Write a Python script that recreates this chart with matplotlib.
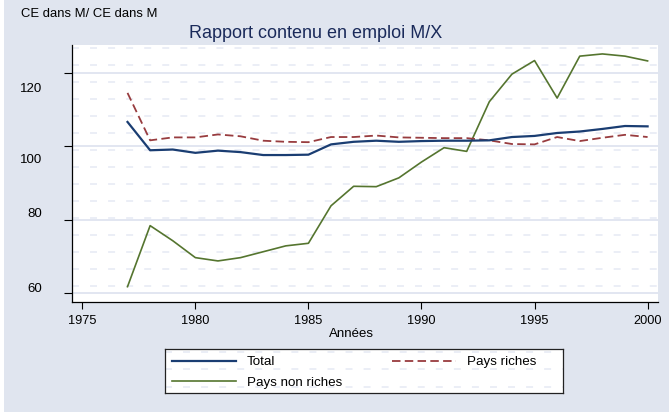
import numpy as np
import matplotlib
matplotlib.use("Agg")
import matplotlib.pyplot as plt
from matplotlib.transforms import ScaledTranslation
from matplotlib.patches import Rectangle
from matplotlib.lines import Line2D

plt.rcParams['font.family'] = ['Liberation Sans', 'DejaVu Sans']
plt.rcParams['lines.scale_dashes'] = False

years = list(range(1977, 2001))
total = [106.6, 98.9, 99.1, 98.2, 98.8, 98.4, 97.6, 97.6, 97.7, 100.5, 101.2, 101.5,
         101.2, 101.4, 101.5, 101.5, 101.6, 102.5, 102.8, 103.6, 104.0, 104.7, 105.5, 105.4]
riches = [114.5, 101.6, 102.4, 102.4, 103.2, 102.7, 101.5, 101.2, 101.1, 102.5, 102.5, 102.9,
          102.4, 102.3, 102.2, 102.2, 101.6, 100.6, 100.5, 102.5, 101.4, 102.3, 103.1, 102.5]
non_riches = [61.8, 78.4, 74.3, 69.7, 68.8, 69.7, 71.3, 72.9, 73.6, 83.8, 89.1, 89.0,
              91.4, 95.7, 99.6, 98.6, 112.1, 119.6, 123.3, 113.1, 124.5, 125.1, 124.5, 123.2]
series_names = ["Total", "Pays riches", "Pays non riches"]
xticks = [1975, 1980, 1985, 1990, 1995, 2000]
yticks = [60, 80, 100, 120]

W, H = 669, 412
BG = '#e0e5ef'
PAT = '#e6e9f4'
C_TOT = '#1a3d72'
C_RICH = '#983c3f'
C_NON = '#55752f'

fig = plt.figure(figsize=(W / 100, H / 100), dpi=100, facecolor=BG)
fig.patches.append(Rectangle((0, 0), 4 / W, 1, transform=fig.transFigure,
                             facecolor='white', edgecolor='none', zorder=-1))

def fx(px):
    return px / W

def fy(py):
    return 1 - py / H

ax_l, ax_r, ax_t, ax_b = 72, 657.7, 45, 302.3
ax = fig.add_axes([fx(ax_l), fy(ax_b), fx(ax_r - ax_l), (ax_b - ax_t) / H])
ax.set_facecolor('white')
ax.set_xlim(1974.545, 2000.447)
ax.set_ylim(57.55, 127.53)

# background texture rows
for k in range(15):
    ypx = 47.7 + 17.0 * k
    frac = (ax_b - ypx) / (ax_b - ax_t)
    ax.plot([0, 1], [frac, frac], transform=ax.transAxes, color=PAT, lw=1.1,
            linestyle=(0, (5, 8)), zorder=0.5)
for yv in yticks:
    ax.axhline(yv, color='#dde2ef', lw=1.2, zorder=0.6)

ax.plot(years, non_riches, color=C_NON, lw=1.2, zorder=3)
ax.plot(years, riches, color=C_RICH, lw=1.3, linestyle=(0, (6.1, 3.1)), zorder=3)
ax.plot(years, total, color=C_TOT, lw=1.6, zorder=4)

for s in ['top', 'right']:
    ax.spines[s].set_visible(False)
for s in ['left', 'bottom']:
    ax.spines[s].set_linewidth(0.9)
    ax.spines[s].set_color('black')

ax.set_xticks(xticks)
ax.set_xticklabels([str(v) for v in xticks])
ax.set_yticks(yticks)
ax.set_yticklabels([str(v) for v in yticks])
ax.tick_params(axis='x', length=5, width=0.8, pad=4.3, labelsize=9.2)
ax.tick_params(axis='y', length=5.8, width=0.8, pad=15.5, labelsize=9.5)

# y tick labels offsets as in reference
offsets_px = {120: 14.5, 100: 12.0, 80: -7.5, 60: -6.1}
for t, lab in zip(yticks, ax.get_yticklabels()):
    lab.set_transform(lab.get_transform() +
                      ScaledTranslation(0, -offsets_px[t] / 100, fig.dpi_scale_trans))

fig.text(fx(21), fy(17.3), "CE dans M/ CE dans M", fontsize=9.4, va='baseline', ha='left')
fig.text(fx(315.5), fy(37.7), "Rapport contenu en emploi M/X", fontsize=13,
         va='baseline', ha='center', color='#1a2a5a')
fig.text(fx(351), fy(336.7), "Années", fontsize=9.5, va='baseline', ha='center')

# legend box
lx0, lx1, ly0, ly1 = 165, 563, 349, 392.7
lax = fig.add_axes([fx(lx0), fy(ly1), fx(lx1 - lx0), (ly1 - ly0) / H])
lax.set_xlim(lx0, lx1)
lax.set_ylim(ly1, ly0)
lax.set_facecolor('white')
lax.set_xticks([])
lax.set_yticks([])
for s in lax.spines.values():
    s.set_linewidth(0.9)
    s.set_color('#222222')
for ypx in [351.7, 369.0, 386.7]:
    lax.plot([lx0, lx1], [ypx, ypx], color=PAT, lw=1.1, linestyle=(0, (5, 8)), zorder=0.5)
entries = [
    (series_names[0], C_TOT, 1.6, '-', 172, 236, 247, 360.7),
    (series_names[1], C_RICH, 1.3, (0, (6.1, 3.1)), 392, 456, 467, 360.7),
    (series_names[2], C_NON, 1.2, '-', 172, 236, 247, 381.0),
]
for name, c, lw, ls, x0, x1, tx, ypx in entries:
    lax.add_line(Line2D([x0, x1], [ypx, ypx], color=c, lw=lw, linestyle=ls))
    lax.text(tx, ypx + 4.6, name, fontsize=9.6, va='baseline', ha='left')

fig.savefig("out.png", dpi=100, facecolor=BG)
